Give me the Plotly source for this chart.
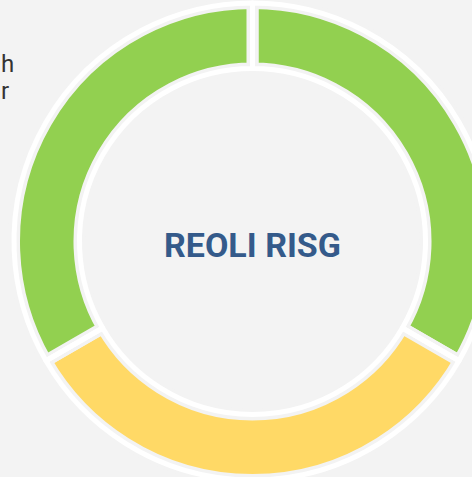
import plotly.graph_objects as go

# Data
labels = ["Verd A", "Groc", "Verd B"]
values = [1, 1, 1]
colors = ["#92D050", "#FFD966", "#92D050"]
center_text = "REOLI RISG"
side_text = ["h", "r"]

BG = "#f3f3f3"
HOLE = 0.7254

# plot area geometry (pixels)
L, T, S = 14, 3, 477


def px_x(p):
    return (p - L) / S


def px_y(p):
    return 1 - (p - T) / S


fig = go.Figure()
fig.add_trace(go.Pie(
    labels=labels, values=values, sort=False, direction="clockwise", rotation=0,
    hole=HOLE, textinfo="none", hoverinfo="label+percent",
    marker=dict(colors=colors, line=dict(color=BG, width=12)),
    showlegend=False,
))
fig.add_trace(go.Pie(
    labels=labels, values=values, sort=False, direction="clockwise", rotation=0,
    hole=HOLE, textinfo="none", hoverinfo="skip",
    marker=dict(colors=["rgba(0,0,0,0)"] * 3, line=dict(color="#ffffff", width=5)),
    showlegend=False,
))

fig.add_annotation(
    text=center_text, x=0.5, y=px_y(245), xref="paper", yref="paper", showarrow=False,
    yanchor="middle",
    font=dict(family="Roboto", size=34, color="#345a8a", weight="bold"),
)
for t, yc in zip(side_text, [64.5, 91.5]):
    fig.add_annotation(
        text=t, x=px_x(-1), y=px_y(yc), xref="paper", yref="paper",
        xanchor="left", yanchor="middle", align="left", showarrow=False,
        font=dict(family="Roboto", size=24, color="#333333"),
    )

fig.update_layout(
    width=491, height=480,
    margin=dict(l=L, r=0, t=T, b=0),
    paper_bgcolor=BG, plot_bgcolor=BG,
)

fig.write_html(
    "out.html",
    config={"displayModeBar": False},
    post_script="document.body.style.margin='0';document.body.style.overflow='hidden';document.body.style.background='#f3f3f3';",
)
